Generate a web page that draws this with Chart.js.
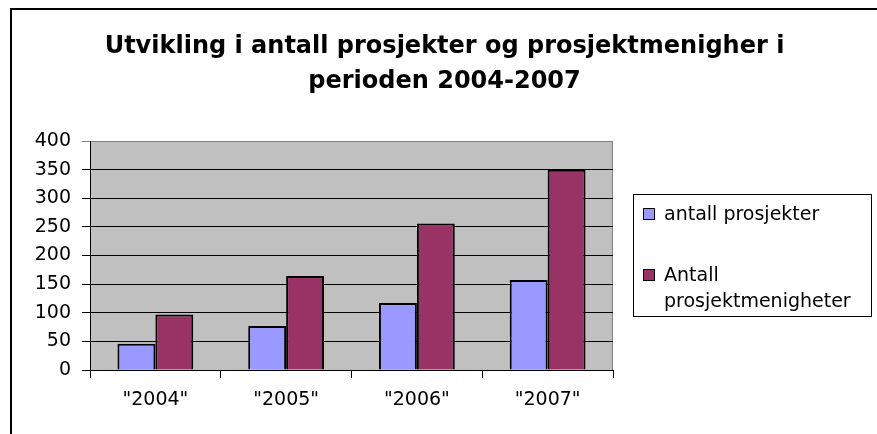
<!DOCTYPE html>
<html>
<head>
<meta charset="utf-8">
<script src="https://cdn.jsdelivr.net/npm/chart.js@4"></script>
<style>
  html, body { margin: 0; padding: 0; background: #fff; }
  #wrap { width: 877px; height: 434px; }
</style>
</head>
<body>
<div id="wrap"><canvas id="chart"></canvas></div>
<script>
// data
var categories = ['"2004"', '"2005"', '"2006"', '"2007"'];
var seriesNames = ['antall prosjekter', 'Antall prosjektmenigheter'];
var prosjekter = [46, 77, 117, 157];
var menigheter = [97, 164, 256, 350];
var titleLines = ['Utvikling i antall prosjekter og prosjektmenigher i', 'perioden 2004-2007'];

var FONT = "'DejaVu Sans', sans-serif";

// white page, gray plot area and the black frame line top + left
var backdrop = {
  id: 'backdrop',
  beforeDraw: function(chart) {
    var ctx = chart.ctx, a = chart.chartArea;
    ctx.save();
    ctx.fillStyle = '#fff';
    ctx.fillRect(0, 0, chart.width, chart.height);
    ctx.fillStyle = '#C0C0C0';
    ctx.fillRect(a.left, a.top, a.right - a.left, a.bottom - a.top);
    ctx.strokeStyle = '#808080';
    ctx.lineWidth = 1;
    ctx.strokeRect(a.left + 0.5, a.top + 0.5, a.right - a.left - 1, a.bottom - a.top);
    ctx.strokeStyle = '#000';
    ctx.lineWidth = 2;
    ctx.beginPath();
    ctx.moveTo(11, chart.height);
    ctx.lineTo(11, 9);
    ctx.lineTo(chart.width, 9);
    ctx.stroke();
    ctx.restore();
  }
};

// boxed legend on the right, like the original
var boxLegend = {
  id: 'boxLegend',
  afterDraw: function(chart) {
    var ctx = chart.ctx;
    var x0 = 633, y0 = 194, w = 238, h = 122;
    ctx.save();
    ctx.strokeStyle = '#000';
    ctx.lineWidth = 1;
    ctx.strokeRect(x0 + 0.5, y0 + 0.5, w, h);
    ctx.font = '19px ' + FONT;
    ctx.textBaseline = 'alphabetic';
    ctx.fillStyle = '#000';
    var ys = [220, 281];
    chart.data.datasets.forEach(function(ds, i) {
      var y = ys[i];
      ctx.fillStyle = ds.backgroundColor;
      ctx.fillRect(643, y - 12, 12, 12);
      ctx.strokeRect(643.5, y - 11.5, 11, 11);
      ctx.fillStyle = '#000';
      // wrap words to the box width
      var words = ds.label.split(' '), line = '', lines = [];
      words.forEach(function(wd) {
        var t = line ? line + ' ' + wd : wd;
        if (ctx.measureText(t).width > 200 && line) { lines.push(line); line = wd; }
        else line = t;
      });
      lines.push(line);
      lines.forEach(function(l, k) { ctx.fillText(l, 664, y + k * 26); });
    });
    ctx.restore();
  }
};

new Chart(document.getElementById('chart'), {
  type: 'bar',
  data: {
    labels: categories,
    datasets: [
      { label: seriesNames[0], data: prosjekter, backgroundColor: '#9999FF', borderColor: '#000', borderWidth: 2 },
      { label: seriesNames[1], data: menigheter, backgroundColor: '#993366', borderColor: '#000', borderWidth: 2 }
    ]
  },
  options: {
    responsive: true,
    maintainAspectRatio: false,
    animation: false,
    categoryPercentage: 0.58,
    barPercentage: 1,
    layout: { padding: { left: 12, right: 0, top: 10, bottom: 0 } },
    plugins: {
      legend: { display: false },
      tooltip: { enabled: false },
      title: {
        display: true,
        text: titleLines,
        color: '#000',
        font: { family: FONT, size: 24, weight: 'bold', lineHeight: 35 / 24 },
        padding: { top: 19, bottom: 42 }
      }
    },
    scales: {
      x: {
        grid: { offset: true, drawOnChartArea: false, drawTicks: true, tickLength: 8, color: '#000' },
        border: { color: '#000', width: 1 },
        ticks: { color: '#000', font: { family: FONT, size: 19 }, padding: 11, maxRotation: 0 },
        afterFit: function(s) { s.height = 64; }
      },
      y: {
        min: 0,
        max: 400,
        ticks: { stepSize: 50, color: '#000', font: { family: FONT, size: 19 }, padding: 11 },
        grid: {
          color: function(c) { return c.tick && c.tick.value === 400 ? '#808080' : '#000'; },
          tickLength: 8,
          lineWidth: 1
        },
        border: { color: '#000', width: 1 },
        afterFit: function(s) { s.width = 78; }
      },
      // empty axis that only keeps room for the legend box
      room: {
        position: 'right',
        display: true,
        grid: { display: false },
        ticks: { display: false },
        border: { display: false },
        afterFit: function(s) { s.width = 264; }
      }
    }
  },
  plugins: [backdrop, boxLegend]
});
</script>
</body>
</html>
